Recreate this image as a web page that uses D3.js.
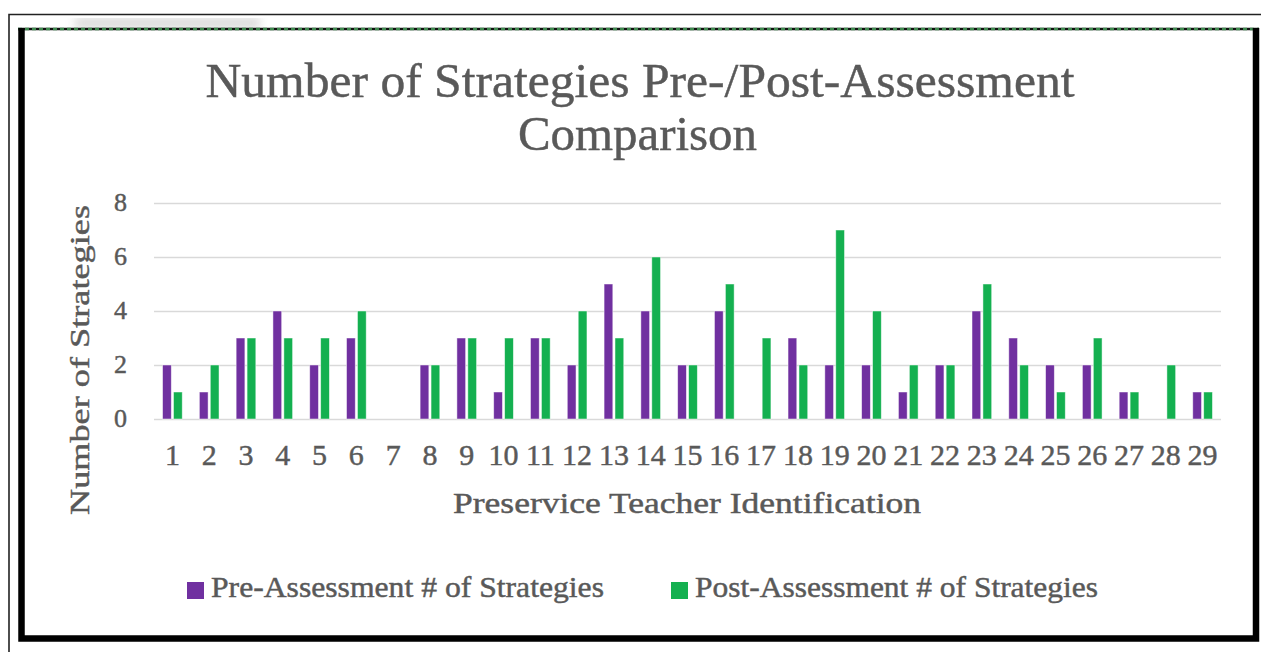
<!DOCTYPE html>
<html>
<head>
<meta charset="utf-8">
<script src="https://cdn.jsdelivr.net/npm/d3@7"></script>
<style>
  html, body { margin: 0; padding: 0; background: #fff; }
  svg { display: block; }
  text { font-family: "Liberation Serif", "DejaVu Serif", serif; fill: #595959; stroke: #595959; stroke-width: 0.45; }
</style>
</head>
<body>
<svg id="chart" width="1261" height="652"></svg>
<script>
// ---- data ----
const categories = ["1","2","3","4","5","6","7","8","9","10","11","12","13","14","15","16","17","18","19","20","21","22","23","24","25","26","27","28","29"];
const preValues  = [2,1,3,4,2,3,0,2,3,1,3,2,5,4,2,4,0,3,2,2,1,2,4,3,2,2,1,0,1];
const postValues = [1,2,3,3,3,4,0,2,3,3,3,4,3,6,2,5,3,2,7,4,2,2,5,2,1,3,1,2,1];
const yTicks = [0,2,4,6,8];
const seriesNames = ["Pre-Assessment # of Strategies", "Post-Assessment # of Strategies"];
const seriesColors = ["#7030A0", "#14B050"];
const titleLines = ["Number of Strategies Pre-/Post-Assessment", "Comparison"];
const xTitle = "Preservice Teacher Identification";
const yTitle = "Number of Strategies";

const svg = d3.select("#chart");

// ---- frames ----
const defs = svg.append("defs");
defs.append("filter").attr("id", "blur").append("feGaussianBlur").attr("stdDeviation", 5);
svg.append("rect").attr("x", 75).attr("y", 19).attr("width", 185).attr("height", 8)
  .attr("fill", "#cfcfcf").attr("filter", "url(#blur)");

// outer thin frame
svg.append("path").attr("d", "M9,652 L9,14.5 L1261,14.5")
  .attr("fill", "none").attr("stroke", "#222").attr("stroke-width", 1.6);

// inner frame: dashed top
svg.append("line").attr("x1", 18).attr("x2", 1259).attr("y1", 29).attr("y2", 29)
  .attr("stroke", "#111").attr("stroke-width", 2.6);
svg.append("line").attr("x1", 18).attr("x2", 1259).attr("y1", 29).attr("y2", 29)
  .attr("stroke", "#3f8a4f").attr("stroke-width", 2.6).attr("stroke-dasharray", "4,3");
// thick left, right, bottom
svg.append("path").attr("d", "M21.5,28 L21.5,638.5 L1256,638.5 L1256,28")
  .attr("fill", "none").attr("stroke", "#000").attr("stroke-width", 6.5);

// ---- scales ----
const plot = { left: 154, right: 1221, top: 203, bottom: 419 };
const x = d3.scaleBand().domain(categories).range([plot.left, plot.right])
  .paddingInner(0.465).paddingOuter(0.2325);
const xs = d3.scaleBand().domain([0, 1]).range([0, x.bandwidth()]).paddingInner(0.2);
const y = d3.scaleLinear().domain([0, 8]).range([plot.bottom, plot.top]);

// ---- grid ----
const yAxis = d3.axisLeft(y).tickValues(yTicks).tickSize(-(plot.right - plot.left)).tickPadding(27);
const gy = svg.append("g").attr("transform", `translate(${plot.left},0)`).call(yAxis);
gy.select(".domain").remove();
gy.selectAll(".tick line").attr("stroke", "#d9d9d9").attr("stroke-width", 1.6);
gy.selectAll(".tick text").attr("font-size", 26).attr("fill", "#595959")
  .attr("font-family", "Liberation Serif, serif").attr("dy", "0.3em");

// ---- bars ----
const series = [preValues, postValues];
series.forEach((vals, si) => {
  svg.append("g").selectAll("rect").data(vals).join("rect")
    .attr("x", (d, i) => x(categories[i]) + xs(si))
    .attr("width", xs.bandwidth())
    .attr("y", d => y(d))
    .attr("height", d => y(0) - y(d))
    .attr("fill", seriesColors[si])
    .attr("stroke", "#fff").attr("stroke-opacity", 0.6).attr("stroke-width", 0.8);
});

// ---- x axis labels ----
const xAxis = d3.axisBottom(x).tickSize(0).tickPadding(0);
const gx = svg.append("g").attr("transform", `translate(0,${plot.bottom})`).call(xAxis);
gx.select(".domain").remove();
gx.selectAll(".tick text").attr("font-size", 30).attr("fill", "#595959")
  .attr("font-family", "Liberation Serif, serif")
  .attr("y", 46).attr("dy", 0);

// ---- titles ----
svg.append("text").attr("x", 640).attr("y", 97).attr("text-anchor", "middle")
  .attr("font-size", 48).attr("textLength", 869).attr("lengthAdjust", "spacingAndGlyphs")
  .text(titleLines[0]);
svg.append("text").attr("x", 637.5).attr("y", 150).attr("text-anchor", "middle")
  .attr("font-size", 48).attr("textLength", 239).attr("lengthAdjust", "spacingAndGlyphs")
  .text(titleLines[1]);

svg.append("text").attr("x", 687).attr("y", 513).attr("text-anchor", "middle")
  .attr("font-size", 30).attr("textLength", 468).attr("lengthAdjust", "spacingAndGlyphs")
  .text(xTitle);

svg.append("text").attr("transform", "translate(89,360) rotate(-90)").attr("text-anchor", "middle")
  .attr("font-size", 28).attr("textLength", 310).attr("lengthAdjust", "spacingAndGlyphs")
  .text(yTitle);

// ---- legend ----
const legendItems = [
  { sx: 187, tx: 211, tw: 393 },
  { sx: 671, tx: 695, tw: 403 }
];
legendItems.forEach((it, i) => {
  svg.append("rect").attr("x", it.sx).attr("y", 582).attr("width", 17).attr("height", 17)
    .attr("fill", seriesColors[i]);
  svg.append("text").attr("x", it.tx).attr("y", 597)
    .attr("font-size", 29).attr("textLength", it.tw).attr("lengthAdjust", "spacingAndGlyphs")
    .text(seriesNames[i]);
});
</script>
</body>
</html>
